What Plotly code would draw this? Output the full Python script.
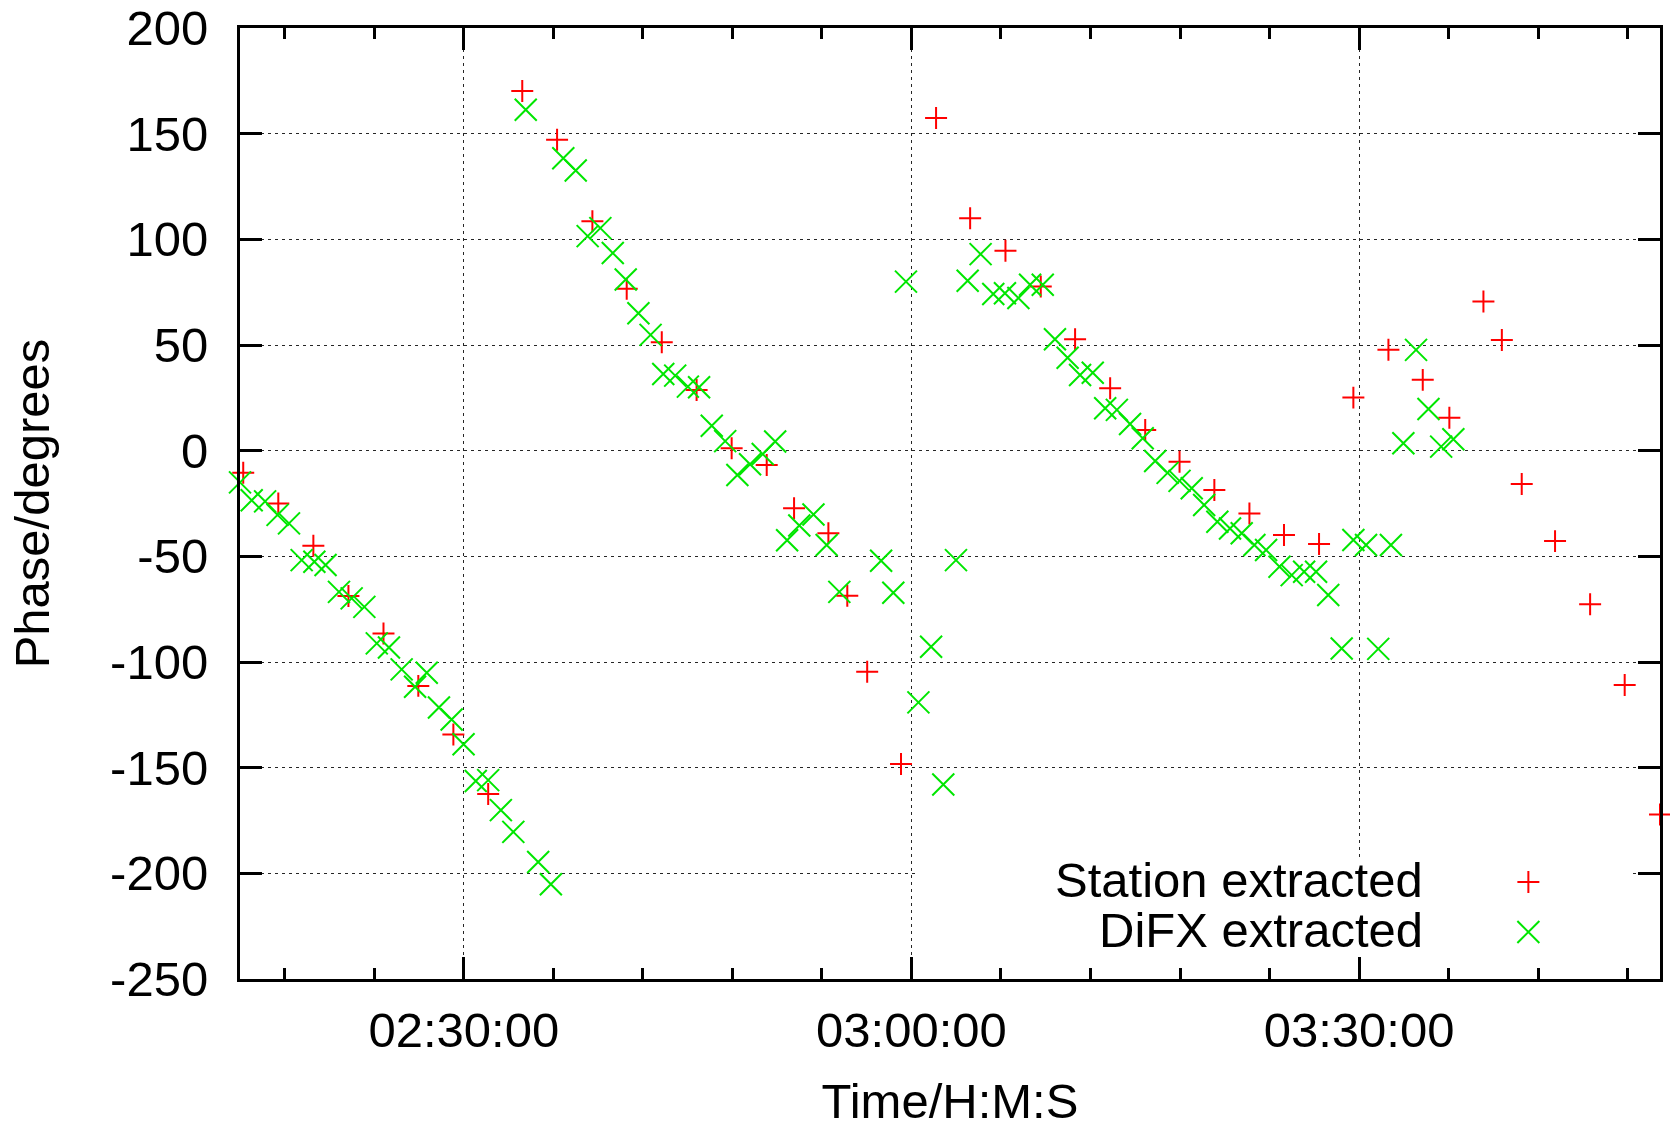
import plotly.graph_objects as go

DAY = "2000-01-01 "

# Station extracted (red +)
station_time = [
    "02:15:13", "02:17:34", "02:19:55", "02:22:16", "02:24:37", "02:26:57", "02:29:18", "02:31:38",
    "02:33:55", "02:36:15", "02:38:37", "02:40:55", "02:43:16", "02:45:36", "02:47:57", "02:50:18",
    "02:52:08", "02:54:26", "02:55:42", "02:57:02", "02:59:18", "03:01:39", "03:03:56", "03:06:18",
    "03:08:40", "03:10:58", "03:13:19", "03:15:40", "03:17:58", "03:20:18", "03:22:39", "03:24:58",
    "03:27:19", "03:29:37", "03:31:58", "03:34:16", "03:36:03", "03:38:20", "03:39:34", "03:40:54",
    "03:43:08", "03:45:29", "03:47:48", "03:50:10",
]
station_phase = [
    -10.5, -25.0, -45.0, -68.8, -86.5, -111.3, -134.3, -162.5,
    170.2, 147.1, 108.6, 76.6, 51.3, 28.7, 1.1, -6.8,
    -27.3, -39.1, -68.6, -104.6, -148.3, 157.4, 110.0, 94.6,
    77.7, 52.7, 29.5, 9.8, -5.2, -18.6, -29.7, -39.9,
    -44.2, 25.1, 47.7, 33.5, 15.6, 70.6, 52.4, -15.8,
    -42.8, -72.7, -110.9, -172.2,
]

# DiFX extracted (green x)
difx_time = [
    "02:15:00", "02:15:47", "02:16:41", "02:17:31", "02:18:17", "02:19:08", "02:19:59", "02:20:44",
    "02:21:38", "02:22:29", "02:23:20", "02:24:10", "02:24:59", "02:25:50", "02:26:44", "02:27:31",
    "02:28:20", "02:29:11", "02:29:59", "02:30:48", "02:31:38", "02:32:29", "02:33:19", "02:34:09",
    "02:34:59", "02:35:50", "02:36:40", "02:37:30", "02:38:18", "02:39:09", "02:39:59", "02:40:51",
    "02:41:42", "02:42:31", "02:43:22", "02:44:10", "02:45:01", "02:45:46", "02:46:37", "02:47:31",
    "02:48:20", "02:49:11", "02:50:02", "02:50:52", "02:51:40", "02:52:29", "02:53:26", "02:54:19",
    "02:55:10", "02:57:58", "02:58:47", "02:59:38", "03:00:28", "03:01:19", "03:02:08", "03:02:59",
    "03:03:46", "03:04:38", "03:05:29", "03:06:16", "03:07:10", "03:07:57", "03:08:48", "03:09:37",
    "03:10:28", "03:11:18", "03:12:09", "03:12:59", "03:13:46", "03:14:39", "03:15:30", "03:16:20",
    "03:17:10", "03:17:58", "03:18:47", "03:19:37", "03:20:30", "03:21:21", "03:22:08", "03:22:59",
    "03:23:46", "03:24:40", "03:25:29", "03:26:19", "03:27:07", "03:27:56", "03:28:50", "03:29:37",
    "03:30:28", "03:31:17", "03:32:08", "03:32:58", "03:33:49", "03:34:39", "03:35:30", "03:36:19",
]
difx_phase = [
    -15.0, -23.5, -24.0, -30.4, -34.4, -51.8, -52.6, -54.1,
    -66.8, -69.9, -73.9, -91.2, -93.1, -103.5, -111.7, -105.1,
    -121.5, -127.2, -138.9, -156.3, -155.9, -170.1, -180.4, 161.3,
    -194.6, -205.2, 138.4, 132.6, 101.5, 105.3, 93.5, 81.0,
    65.0, 54.8, 36.3, 35.5, 30.3, 30.0, 11.8, 4.5,
    -11.5, -6.4, -1.6, 4.3, -42.4, -35.4, -30.2, -44.6,
    -66.8, -52.1, -67.2, 80.0, -119.1, -92.8, -158.0, -51.8,
    80.4, 93.0, 74.1, 74.5, 72.2, 78.5, 78.5, 52.7,
    44.0, 35.8, 36.9, 20.1, 19.3, 12.6, 5.9, -4.9,
    -10.5, -14.3, -17.8, -25.7, -33.6, -36.8, -39.1, -44.6,
    -47.0, -54.9, -58.9, -57.3, -57.3, -68.3, -93.6, -42.3,
    -44.6, -93.8, -44.6, 3.5, 47.7, 19.7, 1.9, 5.4,
]

series_names = ["Station extracted", "DiFX extracted"]
y_ticks = [-250, -200, -150, -100, -50, 0, 50, 100, 150, 200]
y_ticktext = [str(v) for v in y_ticks]

RED = "#ff0000"
GREEN = "#00e600"
FONT = "Liberation Sans, Arial, sans-serif"

st_x = [DAY + t for t in station_time]
dx_x = [DAY + t for t in difx_time]
all_x = sorted(st_x + dx_x)

fig = go.Figure()
fig.add_trace(go.Scatter(
    x=st_x, y=station_phase, mode="markers", name=series_names[0],
    marker=dict(symbol="cross-thin", size=15.7, color=RED, line=dict(color=RED, width=2)),
    cliponaxis=False,
))
fig.add_trace(go.Scatter(
    x=dx_x, y=difx_phase, mode="markers", name=series_names[1],
    marker=dict(symbol="x-thin", size=22, color=GREEN, line=dict(color=GREEN, width=2)),
    cliponaxis=False,
))

# opaque key box (hides the grid behind the key, as gnuplot does)
box_x = [0.4775, 0.9803, 0.9803, 0.4775, 0.4775]
box_y = [0.0, 0.0, 0.128, 0.128, 0.0]
fig.add_trace(go.Scatter(
    x=box_x, y=box_y, xaxis="x2", yaxis="y2", mode="lines", fill="toself",
    fillcolor="white", line=dict(width=0, color="white"), showlegend=False, hoverinfo="skip",
))

# key symbols (gnuplot style: symbol to the right of the text)
fig.add_trace(go.Scatter(
    x=[0.9073], y=[0.102], xaxis="x2", yaxis="y2", mode="markers", showlegend=False,
    marker=dict(symbol="cross-thin", size=15.7, color=RED, line=dict(color=RED, width=2)),
    hoverinfo="skip",
))
fig.add_trace(go.Scatter(
    x=[0.9073], y=[0.0495], xaxis="x2", yaxis="y2", mode="markers", showlegend=False,
    marker=dict(symbol="x-thin", size=22, color=GREEN, line=dict(color=GREEN, width=2)),
    hoverinfo="skip",
))

axis_common = dict(
    ticks="inside", ticklen=22, tickwidth=3, tickcolor="black",
    showline=True, linewidth=3, linecolor="black", mirror="ticks",
    showgrid=True, gridcolor="rgba(0,0,0,0.85)", gridwidth=1, griddash="3px,4px",
    zeroline=False, automargin=False,
    tickfont=dict(family=FONT, size=49, color="black"),
)

fig.update_layout(
    width=1670, height=1128,
    margin=dict(l=240, r=10, t=28, b=149),
    paper_bgcolor="white", plot_bgcolor="white",
    showlegend=False,
    font=dict(family=FONT, size=49, color="black"),
    xaxis=dict(
        type="date", range=[all_x[0], all_x[-1]],
        tickformat="%H:%M:%S", dtick=1800000, tick0=DAY + "00:00:00",
        minor=dict(dtick=360000, tick0=DAY + "00:00:00", ticks="inside", ticklen=11,
                   tickwidth=3, tickcolor="black", showgrid=False),
        title=dict(text="Time/H:M:S", font=dict(family=FONT, size=49), standoff=34),
        ticklabelstandoff=6,
        **axis_common,
    ),
    yaxis=dict(
        range=[-250, 200], tickvals=y_ticks, ticktext=y_ticktext,
        title=dict(text="Phase/degrees", font=dict(family=FONT, size=49), standoff=45),
        ticklabelstandoff=19,
        **axis_common,
    ),
    xaxis2=dict(overlaying="x", range=[0, 1], visible=False),
    yaxis2=dict(overlaying="y", range=[0, 1], visible=False),
    annotations=[
        dict(text=series_names[0], xref="paper", yref="paper", x=0.8345, y=0.1039,
             xanchor="right", yanchor="middle", showarrow=False,
             font=dict(family=FONT, size=49, color="black")),
        dict(text=series_names[1], xref="paper", yref="paper", x=0.8345, y=0.0512,
             xanchor="right", yanchor="middle", showarrow=False,
             font=dict(family=FONT, size=49, color="black")),
    ],
)

fig.write_html("out.html")
